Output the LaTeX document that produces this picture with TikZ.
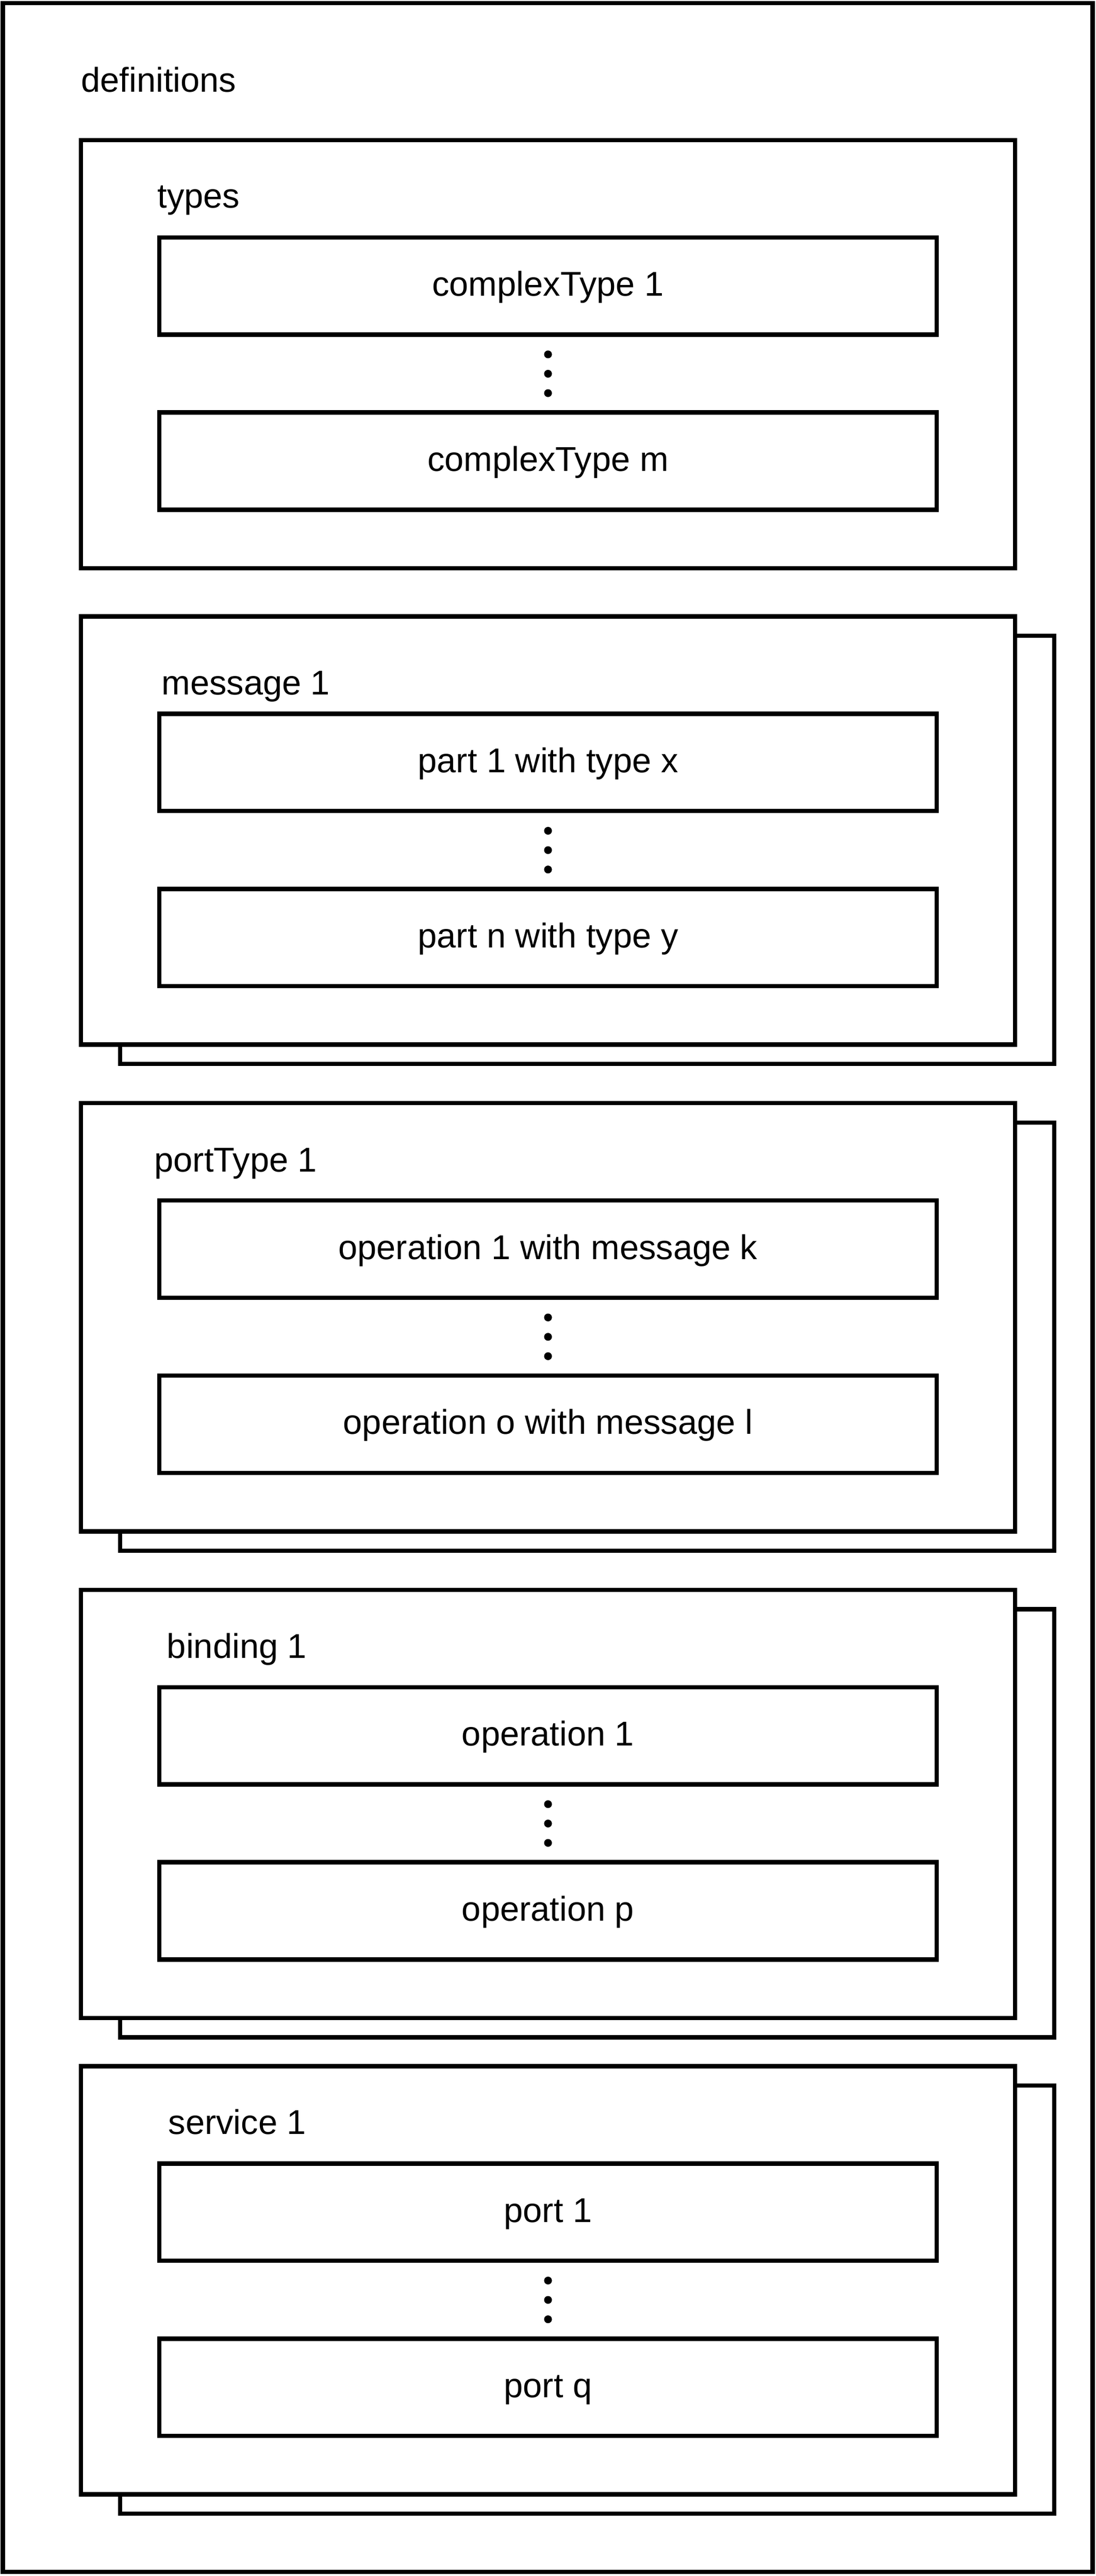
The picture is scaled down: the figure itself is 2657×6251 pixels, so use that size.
\documentclass[tikz,border=0pt]{standalone}
\usepackage{fontspec}
\setmainfont{Liberation Sans}
\begin{document}
\begin{tikzpicture}[x=0.1pt,y=-0.1pt,
  frame/.style={draw, line width=1.05pt, inner sep=0pt, outer sep=0pt},
  secbox/.style={frame, fill=white, minimum width=226.6pt, minimum height=103.9pt},
  backbox/.style={secbox},
  itembox/.style={frame, fill=white, minimum width=188.6pt, minimum height=23.6pt,
    font=\fontsize{8.35}{10}\selectfont, text height=6.3pt, text depth=1.4pt},
  lbl/.style={anchor=base west, inner sep=0pt, font=\fontsize{8.35}{10}\selectfont},
  vdot/.style={circle, fill=black, inner sep=0pt, minimum size=1.9pt}]
\useasboundingbox (0,0) rectangle (2657,6251);
\node[frame, minimum width=264.3pt, minimum height=623.4pt] (defs) at (1328.5,3124) {};
\node[lbl] (defs-label) at (195,223) {definitions};
\foreach \s/\T/\lab/\lx/\ly/\ia/\ib/\bk in {
  types/340/types/380/165/complexType 1/complexType m/0,
  msg/1496/message 1/390/190/part 1 with type x/part n with type y/1,
  pt/2677/portType 1/372.5/166/operation 1 with message k/operation o with message l/1,
  bind/3858/binding 1/403/166/operation 1/operation p/1,
  serv/5014/service 1/406.5/165.5/port 1/port q/1}
{
  \ifnum\bk=1 \node[backbox] (\s-back) at (1424,\T+566.5) {}; \fi
  \node[secbox] (\s) at (1329,\T+519.5) {};
  \node[lbl] (\s-label) at (\lx,\T+\ly) {\lab};
  \node[itembox] (\s-first) at (1329,\T+354) {\ia};
  \node[itembox] (\s-last) at (1329,\T+779) {\ib};
  \node[vdot] (\s-d1) at (1329,\T+520) {};
  \node[vdot] (\s-d2) at (1329,\T+567) {};
  \node[vdot] (\s-d3) at (1329,\T+614) {};
}
\end{tikzpicture}
\end{document}
